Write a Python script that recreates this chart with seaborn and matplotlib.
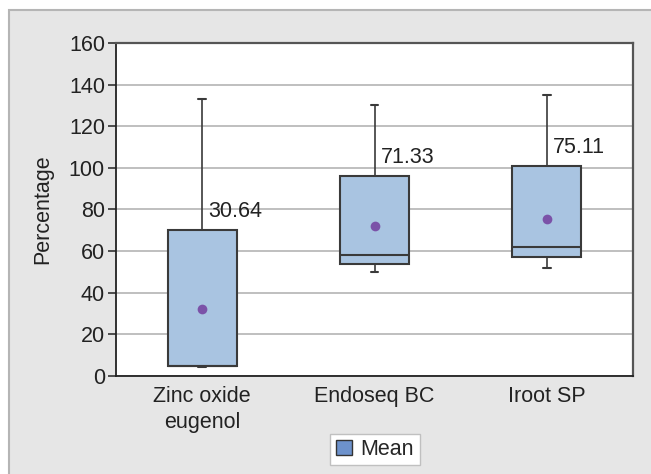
import seaborn as sns
import matplotlib.pyplot as plt
import pandas as pd
from matplotlib.patches import Patch, Rectangle

categories = ["Zinc oxide\neugenol", "Endoseq BC", "Iroot SP"]
whisker_low = [4.5, 50, 52]
q1 = [5, 54, 57]
median = [5, 58, 62]
q3 = [70, 96, 101]
whisker_high = [133, 130, 135]
mean_dots = [32, 72, 75.5]
mean_labels = ["30.64", "71.33", "75.11"]

box_color = "#a9c4e1"
edge_color = "#3a3a3a"
dot_color = "#7b52a8"
fs = 15.5

# five-number summary per group -> long table for seaborn
rows = []
for i, cat in enumerate(categories):
    for v in (whisker_low[i], q1[i], median[i], q3[i], whisker_high[i]):
        rows.append({"group": cat, "value": v})
df = pd.DataFrame(rows)

sns.set_style("white")
plt.rcParams['font.family'] = ['Liberation Sans', 'DejaVu Sans']

fig = plt.figure(figsize=(6.51, 4.74), dpi=100)
fig.patch.set_facecolor("white")
fig.patches.append(Rectangle((9 / 651, -0.05), 1.1, 1.05 - 10 / 474, transform=fig.transFigure,
                             facecolor="#e6e6e6", edgecolor="#b5b5b5", linewidth=1.5,
                             zorder=-10))

ax = fig.add_axes([116 / 651, 1 - 376 / 474, (633 - 116) / 651, (376 - 43) / 474])
ax.set_facecolor("white")

sns.boxplot(data=df, x="group", y="value", order=categories, ax=ax,
            width=0.4, whis=(0, 100), color=box_color, saturation=1,
            linewidth=1.5, linecolor=edge_color, capwidths=0.045,
            boxprops=dict(facecolor=box_color, edgecolor=edge_color),
            whiskerprops=dict(color=edge_color, linewidth=1.2),
            capprops=dict(color=edge_color, linewidth=1.5),
            medianprops=dict(color=edge_color, linewidth=1.5),
            zorder=3)

sns.stripplot(x=categories, y=mean_dots, order=categories, jitter=False,
              color=dot_color, size=7, linewidth=0, ax=ax, zorder=4)

for i, lab in enumerate(mean_labels):
    ax.text(i + 0.035, q3[i] + 9, lab, ha="left", va="center", fontsize=fs,
            color="#222222", zorder=5)

ax.set_ylim(0, 160)
ax.set_xlim(-0.5, 2.5)
ax.set_yticks(range(0, 161, 20))
ax.yaxis.grid(True, color="#b4b4b4", linewidth=1.2)
ax.set_axisbelow(True)

ax.set_xticks(range(3))
ax.set_xticklabels(categories, fontsize=fs, linespacing=1.3, color="#222222")
ax.set_xticks([-0.5, 0.5, 1.5], minor=True)
ax.tick_params(axis="x", which="major", length=0, pad=7)
ax.tick_params(axis="x", which="minor", length=7, width=1.2, color="#333333",
               direction="out")
ax.tick_params(axis="y", length=6, width=1.2, color="#333333", direction="out",
               labelsize=fs, labelcolor="#222222", left=True, pad=2)

ax.set_xlabel("")
ax.set_ylabel("Percentage", fontsize=fs, color="#222222", labelpad=11)

for side in ["left", "bottom"]:
    ax.spines[side].set_color("#222222")
    ax.spines[side].set_linewidth(1.3)
for side in ["top", "right"]:
    ax.spines[side].set_color("#555555")
    ax.spines[side].set_linewidth(1.6)

handles = [Patch(facecolor="#6d92cc", edgecolor="#333333", label="Mean")]
fig.legend(handles=handles, loc="center", bbox_to_anchor=(375 / 651, 1 - 449.5 / 474),
           fontsize=fs, frameon=True, fancybox=False, edgecolor="#c0c0c0",
           facecolor="white", framealpha=1, handlelength=0.75, handleheight=0.75,
           handletextpad=0.4, borderpad=0.25)

fig.savefig("out.png", dpi=100)
